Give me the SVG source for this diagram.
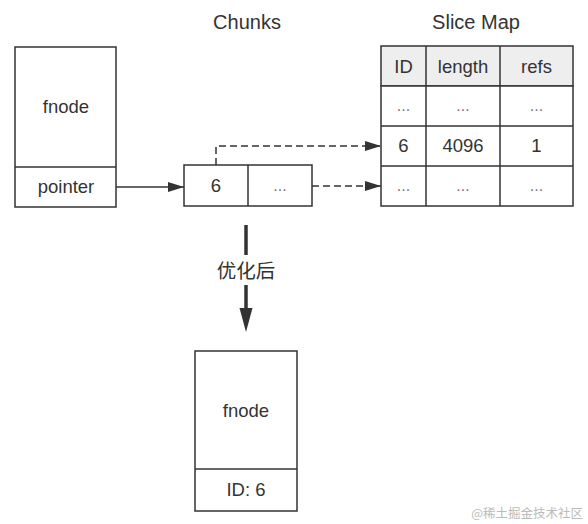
<svg xmlns="http://www.w3.org/2000/svg" width="588" height="524" viewBox="0 0 588 524">
<defs>
<style>
.box{fill:#fff;stroke:#333;stroke-width:1.5}
.hdr{fill:#eeeeee;stroke:#333;stroke-width:1.5}
.ln{fill:none;stroke:#333;stroke-width:1.5}
.t{font-family:"Liberation Sans",Arial,sans-serif;font-size:18.5px;fill:#333;text-anchor:middle}
.ttl{font-family:"Liberation Sans",Arial,sans-serif;font-size:20px;fill:#333;text-anchor:middle}
.dots{font-family:"Liberation Sans",Arial,sans-serif;font-size:16px;fill:#777;text-anchor:middle}
.cn{font-family:"Liberation Sans","Noto Sans CJK SC",sans-serif;font-size:19.5px;fill:#333;text-anchor:middle}
.wm{font-family:"Noto Sans CJK SC",sans-serif;font-size:12.5px;fill:#bbb;text-anchor:end}
.dash{fill:none;stroke:#333;stroke-width:1.5;stroke-dasharray:7 4}
</style>
<marker id="ah" viewBox="0 0 16 10" refX="16" refY="5" markerWidth="16" markerHeight="10" markerUnits="userSpaceOnUse" orient="auto">
<path d="M0,0 L16,5 L0,10 z" fill="#333"/>
</marker>
</defs>
<rect width="588" height="524" fill="#fff"/>

<text class="ttl" x="247" y="29">Chunks</text>
<text class="ttl" x="476" y="29">Slice Map</text>

<g id="fnode-top">
<rect class="box" x="15" y="47" width="101" height="160"/>
<line class="ln" x1="15" y1="167" x2="116" y2="167"/>
<text class="t" x="66" y="113">fnode</text>
<text class="t" x="66" y="193">pointer</text>
</g>

<g id="chunks">
<rect class="box" x="184" y="165" width="128" height="41"/>
<line class="ln" x1="248" y1="165" x2="248" y2="206"/>
<text class="t" x="216" y="192">6</text>
<text class="dots" x="280" y="191">...</text>
</g>

<g id="slice-map">
<rect class="hdr" x="381" y="46" width="192" height="40"/>
<rect class="box" x="381" y="86" width="192" height="120"/>
<line class="ln" x1="381" y1="126" x2="573" y2="126"/>
<line class="ln" x1="381" y1="166" x2="573" y2="166"/>
<line class="ln" x1="426" y1="46" x2="426" y2="206"/>
<line class="ln" x1="500" y1="46" x2="500" y2="206"/>
<text class="t" x="403.5" y="73">ID</text>
<text class="t" x="463" y="73">length</text>
<text class="t" x="536.5" y="73">refs</text>
<text class="dots" x="403.5" y="111">...</text>
<text class="dots" x="463" y="111">...</text>
<text class="dots" x="536.5" y="111">...</text>
<text class="t" x="403.5" y="152">6</text>
<text class="t" x="463" y="152">4096</text>
<text class="t" x="536.5" y="152">1</text>
<text class="dots" x="403.5" y="191">...</text>
<text class="dots" x="463" y="191">...</text>
<text class="dots" x="536.5" y="191">...</text>
</g>

<g id="fnode-bottom">
<rect class="box" x="195" y="351" width="102" height="160"/>
<line class="ln" x1="195" y1="469" x2="297" y2="469"/>
<text class="t" x="246" y="417">fnode</text>
<text class="t" x="246" y="496">ID: 6</text>
</g>

<g id="connectors">
<line class="ln" x1="116" y1="187" x2="184" y2="187" marker-end="url(#ah)"/>
<path class="dash" d="M216,165 L216,146 L381,146" marker-end="url(#ah)"/>
<line class="dash" x1="312" y1="186" x2="381" y2="186" marker-end="url(#ah)"/>
<line x1="246" y1="225" x2="246" y2="255" stroke="#333" stroke-width="3.5"/>
<line x1="246" y1="285" x2="246" y2="310" stroke="#333" stroke-width="3.5"/>
<polygon points="239.5,308 252.5,308 246,332" fill="#333"/>
<text class="cn" x="246" y="278">优化后</text>
</g>

<text class="wm" x="583" y="518">@稀土掘金技术社区</text>
</svg>
